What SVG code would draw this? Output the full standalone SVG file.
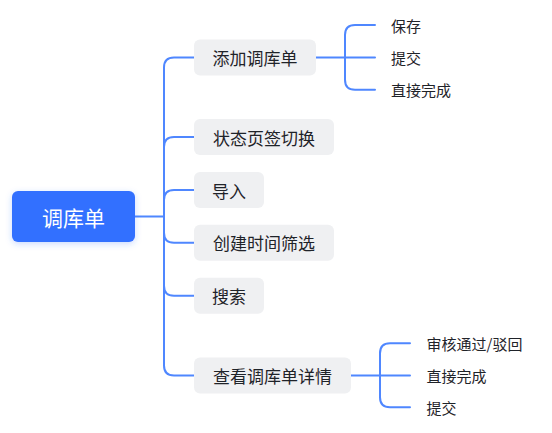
<svg xmlns="http://www.w3.org/2000/svg" width="552" height="433" viewBox="0 0 552 433">
<defs>
<style>
.ln{fill:none;stroke:#4f87ff;stroke-width:2;stroke-linecap:round}
.nd{fill:#eff0f2}
.nt{font-family:"Noto Sans CJK SC","Noto Sans",sans-serif;font-size:17px;fill:#1f2329;text-anchor:middle;dominant-baseline:central}
.ct{font-family:"Noto Sans CJK SC","Noto Sans",sans-serif;font-size:15px;fill:#1f2329;dominant-baseline:central}
</style>
<filter id="sh" x="-20%" y="-30%" width="140%" height="160%">
<feDropShadow dx="0" dy="2" stdDeviation="3" flood-color="#3370ff" flood-opacity="0.25"/>
</filter>
</defs>
<rect width="552" height="433" fill="#ffffff"/>
<g id="connectors">
<path class="ln" d="M135 216.5H164"/>
<path class="ln" d="M194 57.5H174Q164 57.5 164 67.5V365.5Q164 375.5 174 375.5H194"/>
<path class="ln" d="M164 147Q164 137 174 137H194"/>
<path class="ln" d="M164 200Q164 190 174 190H194"/>
<path class="ln" d="M164 232.7Q164 242.7 174 242.7H194"/>
<path class="ln" d="M164 285.7Q164 295.7 174 295.7H194"/>
<path class="ln" d="M316 57.5H375"/>
<path class="ln" d="M375 25H355Q345 25 345 35V79.7Q345 89.7 355 89.7H375"/>
<path class="ln" d="M351 375.5H410"/>
<path class="ln" d="M410 343.3H390Q380 343.3 380 353.3V397.3Q380 407.3 390 407.3H410"/>
</g>
<g id="root">
<rect x="12" y="191" width="123" height="51" rx="6" fill="#3370ff" filter="url(#sh)"/>
<text x="73.5" y="216.5" font-family="'Noto Sans CJK SC','Noto Sans',sans-serif" font-size="21" fill="#ffffff" text-anchor="middle" dominant-baseline="central">调库单</text>
</g>
<g id="n1"><rect class="nd" x="194" y="39.5" width="122" height="36" rx="6"/><text class="nt" x="255" y="57.5">添加调库单</text></g>
<g id="n2"><rect class="nd" x="194" y="119" width="140" height="36" rx="6"/><text class="nt" x="264" y="137">状态页签切换</text></g>
<g id="n3"><rect class="nd" x="194" y="172" width="70" height="36" rx="6"/><text class="nt" x="229" y="190">导入</text></g>
<g id="n4"><rect class="nd" x="194" y="224.7" width="140" height="36" rx="6"/><text class="nt" x="264" y="242.7">创建时间筛选</text></g>
<g id="n5"><rect class="nd" x="194" y="277.7" width="70" height="36" rx="6"/><text class="nt" x="229" y="295.7">搜索</text></g>
<g id="n6"><rect class="nd" x="194" y="357.5" width="157" height="36" rx="6"/><text class="nt" x="272.5" y="375.5">查看调库单详情</text></g>
<g id="c1"><text class="ct" x="391" y="25">保存</text></g>
<g id="c2"><text class="ct" x="391" y="57.5">提交</text></g>
<g id="c3"><text class="ct" x="391" y="89.7">直接完成</text></g>
<g id="c4"><text class="ct" x="426.5" y="343.3">审核通过/驳回</text></g>
<g id="c5"><text class="ct" x="426.5" y="375.5">直接完成</text></g>
<g id="c6"><text class="ct" x="426.5" y="407.3">提交</text></g>
</svg>
